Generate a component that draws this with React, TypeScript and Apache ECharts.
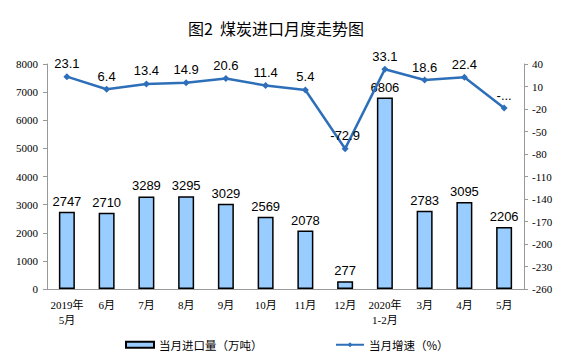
import React, { useEffect, useRef } from "react";
import * as echarts from "echarts";

const categories = ["2019年\n5月", "6月", "7月", "8月", "9月", "10月", "11月", "12月", "2020年\n1-2月", "3月", "4月", "5月"];
const importVolume = [2747, 2710, 3289, 3295, 3029, 2569, 2078, 277, 6806, 2783, 3095, 2206];
const growthRate = [23.1, 6.4, 13.4, 14.9, 20.6, 11.4, 5.4, -72.9, 33.1, 18.6, 22.4, -18.7];
const barName = "当月进口量（万吨）";
const lineName = "当月增速（%）";
const titleText = "图2  煤炭进口月度走势图";

const serif = "'Liberation Serif', 'Noto Sans CJK SC', serif";
const sans = "'Liberation Sans', Arial, sans-serif";
const cjk = "'Noto Sans CJK SC', sans-serif";

export default function App() {
  const ref = useRef<HTMLDivElement>(null);
  useEffect(() => {
    document.body.style.margin = "0";
    const chart = echarts.init(ref.current!, null, { renderer: "svg" });
    const legendBase = {
      top: 334,
      itemWidth: 28,
      itemHeight: 6,
      textStyle: { fontFamily: cjk, fontSize: 11.5, color: "#000" },
    };
    const lineData = growthRate.map((v, i) => ({
      value: v,
      label: i === 7 ? { offset: [0, -22] } : {},
    }));
    chart.setOption({
      animation: false,
      backgroundColor: "#ffffff",
      title: {
        text: titleText,
        left: 183,
        top: 15,
        textStyle: { fontFamily: cjk, fontSize: 16, fontWeight: "normal", color: "#000" },
      },
      grid: { left: 47, right: 37, top: 64, bottom: 68 },
      legend: [
        { ...legendBase, left: 120, data: [{ name: barName, icon: "rect" }] },
        { ...legendBase, left: 330, data: [{ name: lineName }] },
      ],
      xAxis: {
        type: "category",
        data: categories,
        axisLine: { lineStyle: { color: "#999" } },
        axisTick: { length: 3, lineStyle: { color: "#999" } },
        axisLabel: { fontFamily: serif, fontSize: 11, color: "#000", interval: 0, lineHeight: 15, margin: 8 },
      },
      yAxis: [
        {
          type: "value",
          min: 0,
          max: 8000,
          interval: 1000,
          splitLine: { show: false },
          axisLine: { show: true, lineStyle: { color: "#999" } },
          axisTick: { show: true, length: 4, lineStyle: { color: "#999" } },
          axisLabel: { fontFamily: serif, fontSize: 11, color: "#000", margin: 9, formatter: (v: number) => String(v) },
        },
        {
          type: "value",
          min: -260,
          max: 40,
          interval: 30,
          splitLine: { show: false },
          axisLine: { show: true, lineStyle: { color: "#999" } },
          axisTick: { show: true, length: 4, lineStyle: { color: "#999" } },
          axisLabel: { fontFamily: serif, fontSize: 11, color: "#000", margin: 8, formatter: (v: number) => String(v) },
        },
      ],
      series: [
        {
          name: barName,
          type: "bar",
          data: importVolume,
          barWidth: 16,
          itemStyle: { color: "#99CCFF", borderColor: "#000", borderWidth: 1.5 },
          label: { show: true, position: "top", distance: 4, fontFamily: sans, fontSize: 13, color: "#000" },
        },
        {
          name: lineName,
          type: "line",
          yAxisIndex: 1,
          data: lineData,
          symbol: "diamond",
          symbolSize: 7,
          lineStyle: { color: "#2E6FBA", width: 2.5 },
          itemStyle: { color: "#2E6FBA" },
          labelLayout: { moveOverlap: false, hideOverlap: false },
          label: {
            show: true,
            position: [3.5, -3],
            align: "center",
            verticalAlign: "bottom",
            fontFamily: sans,
            fontSize: 13,
            color: "#000",
            formatter: (p: any) => (p.dataIndex === growthRate.length - 1 ? "-..." : String(p.value)),
          },
        },
      ],
    });
    return () => chart.dispose();
  }, []);
  return <div ref={ref} style={{ width: 561, height: 357 }} />;
}
